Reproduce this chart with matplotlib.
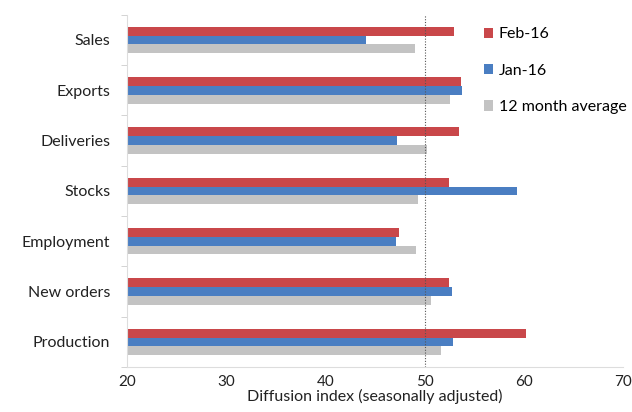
import numpy as np
import matplotlib.pyplot as plt
from matplotlib.patches import Patch

plt.rcParams['font.family'] = ['Lato', 'DejaVu Sans']

categories = ['Sales', 'Exports', 'Deliveries', 'Stocks', 'Employment', 'New orders', 'Production']
feb16 = [53.0, 53.7, 53.5, 52.4, 47.4, 52.4, 60.2]
jan16 = [44.1, 53.8, 47.2, 59.3, 47.1, 52.8, 52.9]
avg12 = [49.0, 52.5, 50.2, 49.3, 49.1, 50.6, 51.6]
series_labels = ['Feb-16', 'Jan-16', '12 month average']
colors = ['#C9474A', '#4A7EC2', '#C3C3C3']

fig = plt.figure(figsize=(6.32, 4.12), dpi=100)
ax = fig.add_axes([0.201, 0.109, 0.785, 0.855])

y = np.arange(len(categories))
h = 0.175
ax.barh(y - h, feb16, height=h, color=colors[0])
ax.barh(y, jan16, height=h, color=colors[1])
ax.barh(y + h, avg12, height=h, color=colors[2])

ax.set_xlim(20, 70)
ax.set_ylim(len(categories) - 0.5, -0.5)
ax.set_xticks([20, 30, 40, 50, 60, 70])
ax.tick_params(axis='x', length=0, labelsize=11, pad=6, colors='#222222')
ax.set_yticks(y)
ax.set_yticklabels(categories)
ax.tick_params(axis='y', length=0, labelsize=11.5, pad=12, colors='#222222')
ax.set_yticks(np.arange(-0.5, len(categories), 1), minor=True)
ax.tick_params(axis='y', which='minor', length=4, color='#cccccc')

ax.axvline(50, color='#555555', linestyle=(0, (1, 1.5)), linewidth=0.8)

for s in ['top', 'right']:
    ax.spines[s].set_visible(False)
ax.spines['left'].set_color('#dddddd')
ax.spines['bottom'].set_color('#dddddd')

ax.set_xlabel('Diffusion index (seasonally adjusted)', fontsize=11.5, labelpad=0, color='#222222')

handles = [Patch(facecolor=c) for c in colors]
ax.legend(handles, series_labels, loc='upper left', bbox_to_anchor=(0.69, 1.005),
          frameon=False, fontsize=11.5, handlelength=0.6, handleheight=0.6,
          handletextpad=0.35, labelspacing=1.4)

fig.savefig('out.png', dpi=100)
